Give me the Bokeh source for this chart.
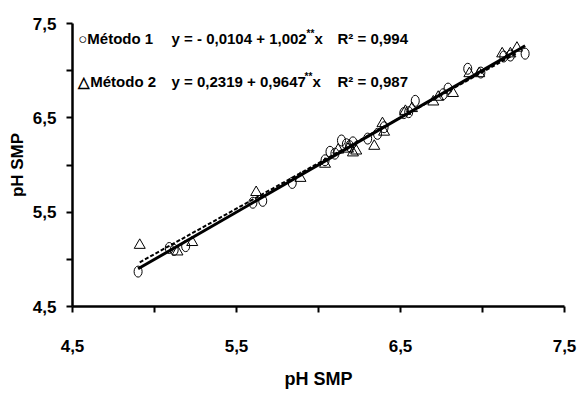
from bokeh.plotting import figure
from bokeh.models import Range1d, FixedTicker
from bokeh.core.properties import value
from bokeh.embed import file_html
from bokeh.resources import INLINE

# ---- data ----
m1_x = [4.90, 5.09, 5.12, 5.19, 5.60, 5.66, 5.84, 6.04, 6.07, 6.10, 6.14, 6.17, 6.19, 6.21,
        6.30, 6.36, 6.40, 6.52, 6.55, 6.59, 6.76, 6.79, 6.91, 6.99, 7.13, 7.17, 7.26]
m1_y = [4.87, 5.12, 5.10, 5.14, 5.60, 5.62, 5.81, 6.05, 6.14, 6.12, 6.26, 6.22, 6.20, 6.24,
        6.28, 6.33, 6.40, 6.55, 6.56, 6.68, 6.75, 6.81, 7.02, 6.98, 7.15, 7.16, 7.18]
m2_x = [4.91, 5.14, 5.23, 5.62, 5.89, 6.04, 6.12, 6.18, 6.21, 6.23, 6.34, 6.39, 6.40,
        6.53, 6.57, 6.70, 6.73, 6.82, 6.92, 6.98, 7.12, 7.17, 7.21]
m2_y = [5.15, 5.08, 5.18, 5.71, 5.86, 6.01, 6.16, 6.17, 6.13, 6.15, 6.20, 6.44, 6.35,
        6.57, 6.60, 6.67, 6.72, 6.76, 6.97, 6.97, 7.18, 7.18, 7.24]

# regression coefficients (as printed in the chart)
m1_a, m1_b = -0.0104, 1.002
m2_a, m2_b = 0.2319, 0.9647

series_names = ["\u25cbMétodo 1", "\u25b3Método 2"]
eq_main = ["y = - 0,0104 + 1,002", "y = 0,2319 + 0,9647"]
eq_sup = ["**", "**"]
eq_tail = ["x", "x"]
r2_texts = ["R\u00b2 = 0,994", "R\u00b2 = 0,987"]

tick_values = [4.5, 5.5, 6.5, 7.5]
tick_labels = ["4,5", "5,5", "6,5", "7,5"]
minor_values = [5.0, 6.0, 7.0]
axis_title = "pH SMP"

FONT = "Liberation Sans"

p = figure(width=578, height=394, output_backend="svg", toolbar_location=None,
           x_range=Range1d(4.5, 7.5), y_range=Range1d(4.5, 7.5),
           min_border_left=72, min_border_right=14, min_border_top=23, min_border_bottom=88)
p.outline_line_color = None
p.grid.visible = False
p.background_fill_color = "white"

for ax in (p.xaxis[0], p.yaxis[0]):
    ax.ticker = FixedTicker(ticks=tick_values, minor_ticks=minor_values)
    ax.major_label_overrides = {v: t for v, t in zip(tick_values, tick_labels)}
    ax.axis_line_width = 2.5
    ax.major_tick_line_width = 2
    ax.minor_tick_line_width = 2
    ax.major_tick_in = 0
    ax.major_tick_out = 6
    ax.minor_tick_in = 0
    ax.minor_tick_out = 6
    ax.major_label_text_font = FONT
    ax.major_label_text_font_style = "bold"
    ax.major_label_text_font_size = "17px"
    ax.major_label_text_color = "black"
    ax.axis_label = axis_title
    ax.axis_label_text_font = FONT
    ax.axis_label_text_font_style = "bold"
    ax.axis_label_text_color = "black"

p.xaxis.major_label_standoff = 27
p.xaxis.axis_label_text_font_size = "18px"
p.xaxis.axis_label_standoff = 14
p.yaxis.major_label_standoff = 10
p.yaxis.axis_label_text_font_size = "17px"
p.yaxis.axis_label_standoff = 3

# regression lines
x1 = [min(m1_x), max(m1_x)]
x2 = [min(m2_x), max(m2_x)]
p.line(x2, [m2_a + m2_b * v for v in x2], line_color="black", line_width=2, line_dash="4 2")
p.line(x1, [m1_a + m1_b * v for v in x1], line_color="black", line_width=3)

# points
p.ellipse(m1_x, m1_y, width=8, height=11, width_units="screen", height_units="screen",
          fill_color=None, line_color="black", line_width=1)
p.scatter(m2_x, m2_y, marker="triangle", size=11, fill_color=None, line_color="black", line_width=1)

# legend-like text
rows_y = [7.34, 6.88]
col_x = [4.535, 5.104, 6.116]
for i in range(2):
    common = dict(text_font=value(FONT), text_font_style="bold", text_baseline="middle",
                  text_color="black")
    p.text([col_x[0]], [rows_y[i]], text=[series_names[i]], text_font_size="15px", **common)
    p.text([col_x[1]], [rows_y[i]], text=[eq_main[i]], text_font_size="15px", **common)
    p.text([col_x[1]], [rows_y[i]], text=[eq_sup[i]], text_font_size="10px",
           x_offset=[135 - 2 * i], y_offset=[-5], **common)
    p.text([col_x[1]], [rows_y[i]], text=[eq_tail[i]], text_font_size="15px",
           x_offset=[143 - 2 * i], **common)
    p.text([col_x[2]], [rows_y[i]], text=[r2_texts[i]], text_font_size="15px", **common)

open("out.html", "w").write(file_html(p, INLINE))
